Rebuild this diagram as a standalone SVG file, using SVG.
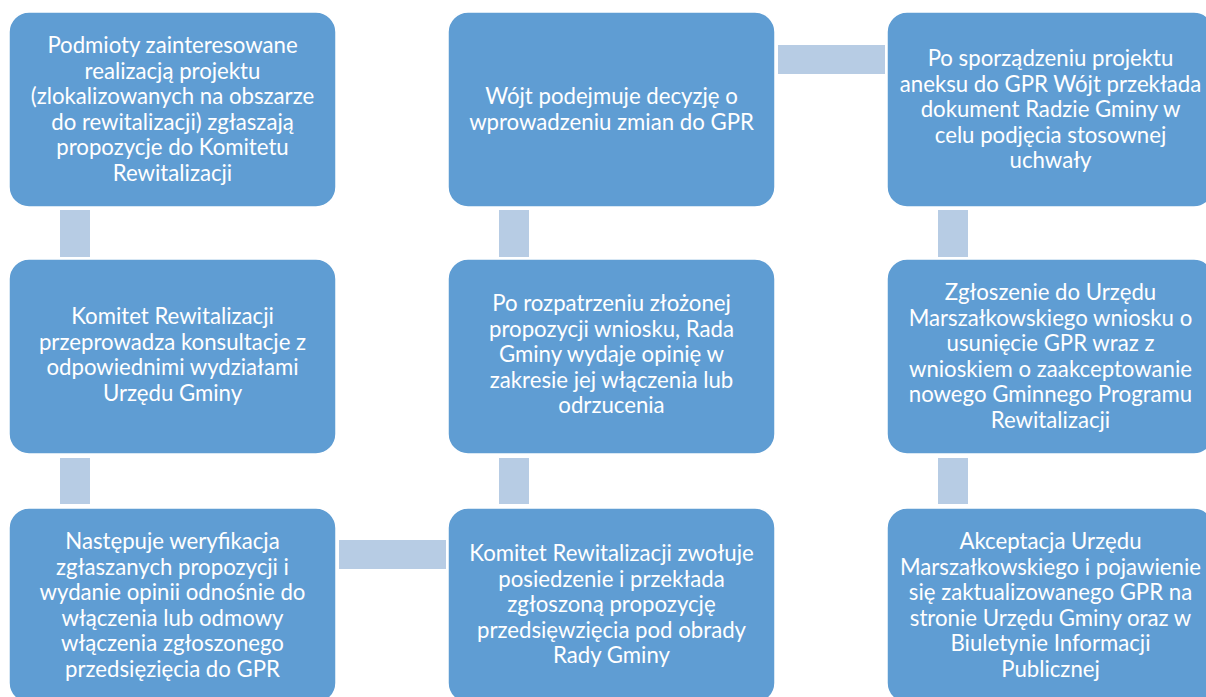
<svg xmlns="http://www.w3.org/2000/svg" width="1206" height="697" viewBox="0 0 1206 697">
<style>
.box{fill:#5F9DD3;stroke:#FFFFFF;stroke-width:1.5}
.conn{fill:#B7CCE4}
text{font-family:Lato,"Open Sans","Liberation Sans",sans-serif;font-size:22.2px;fill:#FFFFFF;text-anchor:middle}
</style>
<rect width="1206" height="697" fill="#FFFFFF"/>
<g id="connectors">
<rect class="conn" x="60" y="210" width="30" height="47"/>
<rect class="conn" x="60" y="458" width="30" height="46"/>
<rect class="conn" x="339" y="540" width="107" height="29"/>
<rect class="conn" x="499" y="458" width="30" height="46"/>
<rect class="conn" x="499" y="210" width="30" height="47"/>
<rect class="conn" x="778" y="45" width="107" height="29"/>
<rect class="conn" x="938" y="210" width="30" height="47"/>
<rect class="conn" x="938" y="458" width="30" height="46"/>
</g>
<g id="n1">
<rect class="box" x="9" y="12" width="327" height="195" rx="20"/>
<text x="172.5"><tspan x="172.5" y="53">Podmioty zainteresowane</tspan><tspan x="172.5" y="78.5">realizacją projektu</tspan><tspan x="172.5" y="104">(zlokalizowanych na obszarze</tspan><tspan x="172.5" y="129.5">do rewitalizacji) zgłaszają</tspan><tspan x="172.5" y="155">propozycje do Komitetu</tspan><tspan x="172.5" y="180.5">Rewitalizacji</tspan></text>
</g>
<g id="n2">
<rect class="box" x="9" y="259" width="327" height="195" rx="20"/>
<text><tspan x="172.5" y="324">Komitet Rewitalizacji</tspan><tspan x="172.5" y="349.5">przeprowadza konsultacje z</tspan><tspan x="172.5" y="375">odpowiednimi wydziałami</tspan><tspan x="172.5" y="400.5">Urzędu Gminy</tspan></text>
</g>
<g id="n3">
<rect class="box" x="9" y="508" width="327" height="195" rx="20"/>
<text><tspan x="172.5" y="549">Następuje weryfikacja</tspan><tspan x="172.5" y="574.5">zgłaszanych propozycji i</tspan><tspan x="172.5" y="600">wydanie opinii odnośnie do</tspan><tspan x="172.5" y="625.5">włączenia lub odmowy</tspan><tspan x="172.5" y="651">włączenia zgłoszonego</tspan><tspan x="172.5" y="676.5">przedsięzięcia do GPR</tspan></text>
</g>
<g id="n4">
<rect class="box" x="448" y="508" width="327" height="195" rx="20"/>
<text><tspan x="611.5" y="561">Komitet Rewitalizacji zwołuje</tspan><tspan x="611.5" y="586.5">posiedzenie i przekłada</tspan><tspan x="611.5" y="612">zgłoszoną propozycję</tspan><tspan x="611.5" y="637.5">przedsięwzięcia pod obrady</tspan><tspan x="611.5" y="663">Rady Gminy</tspan></text>
</g>
<g id="n5">
<rect class="box" x="448" y="259" width="327" height="195" rx="20"/>
<text><tspan x="611.5" y="311">Po rozpatrzeniu złożonej</tspan><tspan x="611.5" y="336.5">propozycji wniosku, Rada</tspan><tspan x="611.5" y="362">Gminy wydaje opinię w</tspan><tspan x="611.5" y="387.5">zakresie jej włączenia lub</tspan><tspan x="611.5" y="413">odrzucenia</tspan></text>
</g>
<g id="n6">
<rect class="box" x="448" y="12" width="327" height="195" rx="20"/>
<text><tspan x="611.5" y="104">Wójt podejmuje decyzję o</tspan><tspan x="611.5" y="129.5">wprowadzeniu zmian do GPR</tspan></text>
</g>
<g id="n7">
<rect class="box" x="887" y="12" width="327" height="195" rx="20"/>
<text><tspan x="1050.5" y="66">Po sporządzeniu projektu</tspan><tspan x="1050.5" y="91.5">aneksu do GPR Wójt przekłada</tspan><tspan x="1050.5" y="117">dokument Radzie Gminy w</tspan><tspan x="1050.5" y="142.5">celu podjęcia stosownej</tspan><tspan x="1050.5" y="168">uchwały</tspan></text>
</g>
<g id="n8">
<rect class="box" x="887" y="259" width="327" height="195" rx="20"/>
<text><tspan x="1050.5" y="300">Zgłoszenie do Urzędu</tspan><tspan x="1050.5" y="325.5">Marszałkowskiego wniosku o</tspan><tspan x="1050.5" y="351">usunięcie GPR wraz z</tspan><tspan x="1050.5" y="376.5">wnioskiem o zaakceptowanie</tspan><tspan x="1050.5" y="402">nowego Gminnego Programu</tspan><tspan x="1050.5" y="427.5">Rewitalizacji</tspan></text>
</g>
<g id="n9">
<rect class="box" x="887" y="508" width="327" height="195" rx="20"/>
<text><tspan x="1050.5" y="549">Akceptacja Urzędu</tspan><tspan x="1050.5" y="574.5">Marszałkowskiego i pojawienie</tspan><tspan x="1050.5" y="600">się zaktualizowanego GPR na</tspan><tspan x="1050.5" y="625.5">stronie Urzędu Gminy oraz w</tspan><tspan x="1050.5" y="651">Biuletynie Informacji</tspan><tspan x="1050.5" y="676.5">Publicznej</tspan></text>
</g>
</svg>
